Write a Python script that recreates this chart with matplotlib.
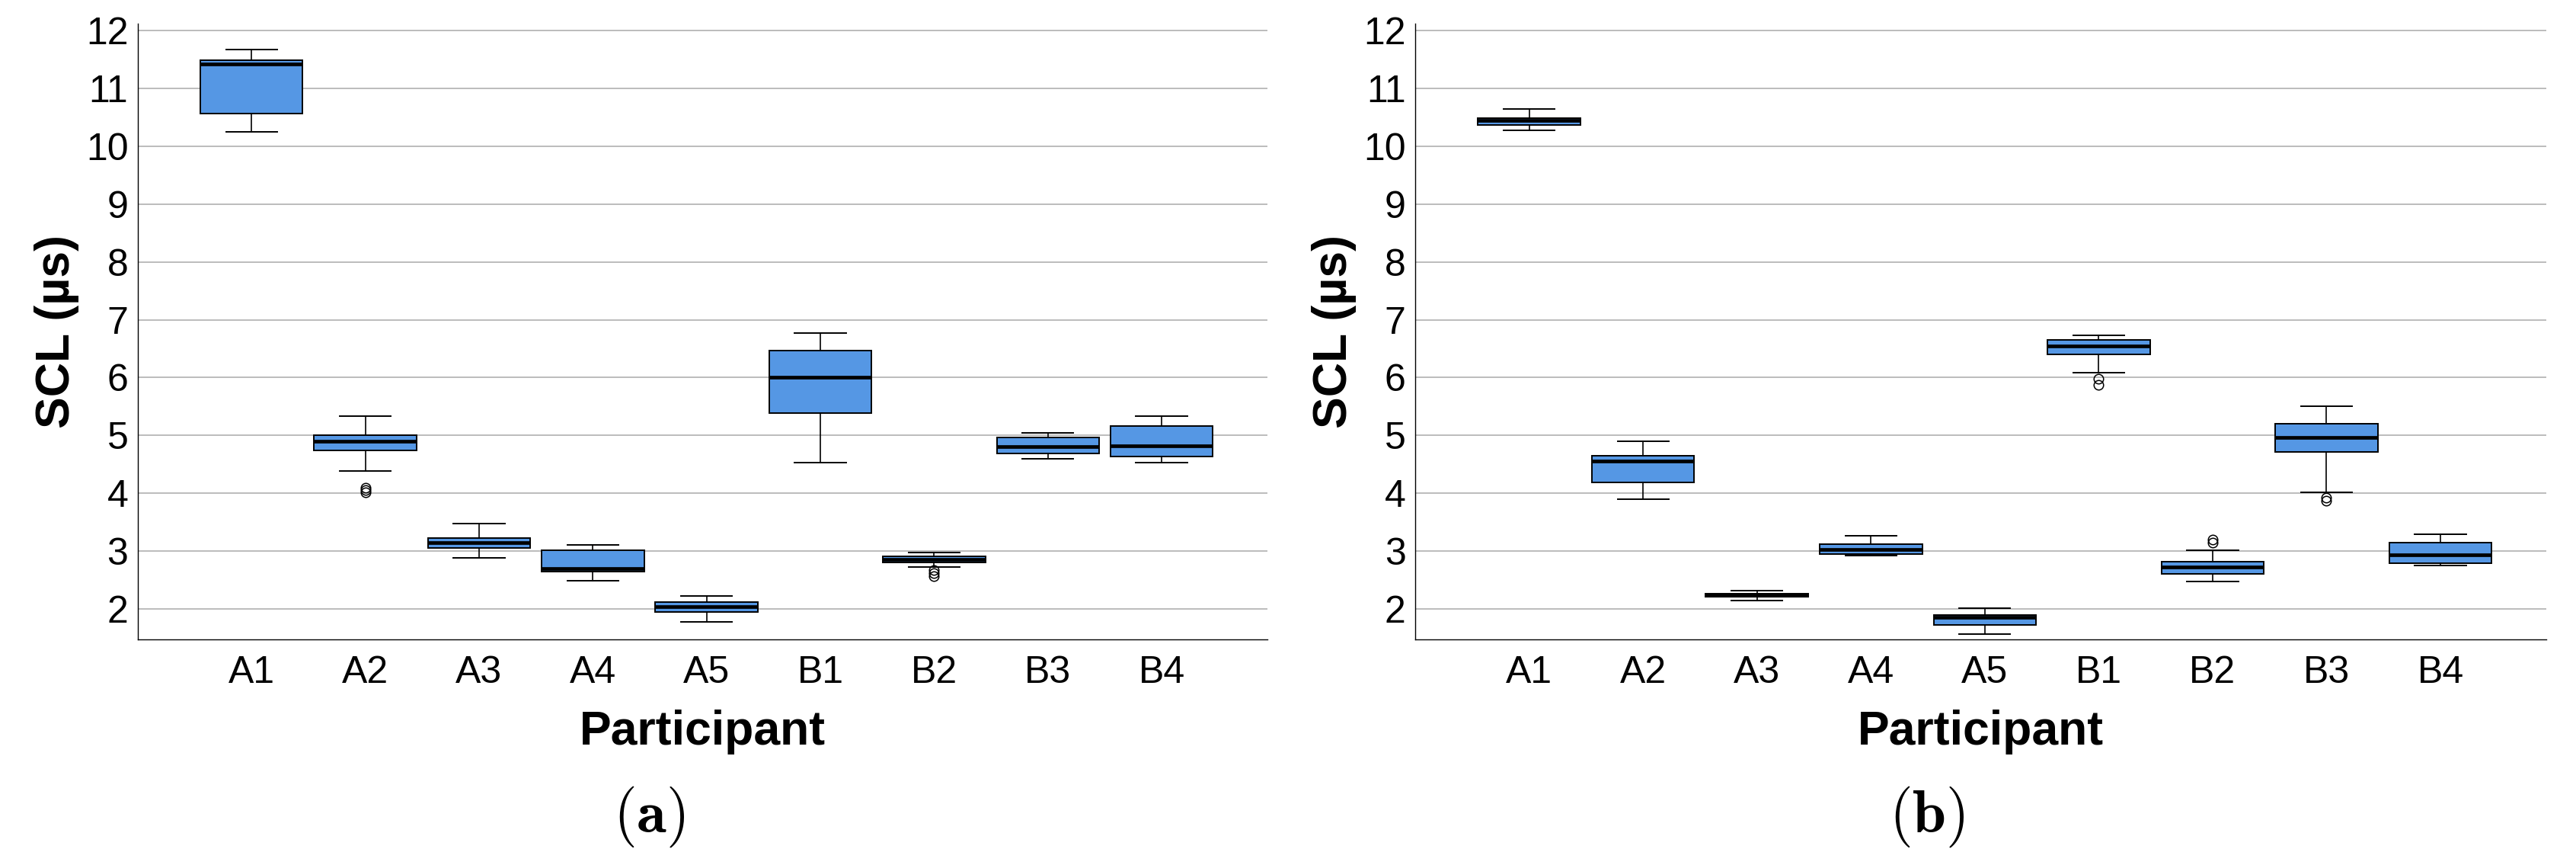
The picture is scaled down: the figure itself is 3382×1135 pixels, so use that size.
import matplotlib
matplotlib.use('Agg')
import matplotlib.pyplot as plt

plt.rcParams['font.family'] = ['Liberation Sans', 'DejaVu Sans']
plt.rcParams['mathtext.fontset'] = 'cm'

participants = ['A1', 'A2', 'A3', 'A4', 'A5', 'B1', 'B2', 'B3', 'B4']

# panel (a)
a_whislo = [10.25, 4.38, 2.88, 2.49, 1.78, 4.53, 2.73, 4.59, 4.53]
a_q1 = [10.57, 4.74, 3.06, 2.65, 1.95, 5.38, 2.81, 4.69, 4.63]
a_med = [11.42, 4.90, 3.14, 2.70, 2.04, 6.00, 2.86, 4.81, 4.82]
a_q3 = [11.49, 5.01, 3.23, 3.01, 2.12, 6.47, 2.91, 4.97, 5.16]
a_whishi = [11.67, 5.34, 3.47, 3.11, 2.22, 6.77, 2.97, 5.04, 5.33]
a_fliers = [[], [4.09, 4.05, 4.01], [], [], [], [], [2.67, 2.62, 2.56], [], []]

# panel (b)
b_whislo = [10.28, 3.90, 2.15, 2.92, 1.57, 6.08, 2.47, 4.01, 2.75]
b_q1 = [10.37, 4.19, 2.21, 2.95, 1.72, 6.40, 2.61, 4.71, 2.79]
b_med = [10.44, 4.55, 2.24, 3.03, 1.86, 6.55, 2.72, 4.97, 2.93]
b_q3 = [10.49, 4.65, 2.27, 3.12, 1.89, 6.65, 2.82, 5.20, 3.14]
b_whishi = [10.65, 4.90, 2.31, 3.26, 2.01, 6.73, 3.01, 5.50, 3.29]
b_fliers = [[], [], [], [], [], [5.98, 5.88], [3.20, 3.14], [3.93, 3.87], []]

panel_labels = ['(a)', '(b)']

box_color = '#5597e4'


def make_stats(lo, q1, med, q3, hi, fl):
    stats = []
    for i in range(len(participants)):
        stats.append(dict(whislo=lo[i], q1=q1[i], med=med[i], q3=q3[i],
                          whishi=hi[i], fliers=fl[i], label=participants[i]))
    return stats


fig = plt.figure(figsize=(33.82, 11.35), dpi=100)
ax1 = fig.add_axes([0.0535, 0.2608, 0.4385, 0.7119])
ax2 = fig.add_axes([0.5494, 0.2608, 0.4391, 0.7119])

panels = [
    (ax1, make_stats(a_whislo, a_q1, a_med, a_q3, a_whishi, a_fliers)),
    (ax2, make_stats(b_whislo, b_q1, b_med, b_q3, b_whishi, b_fliers)),
]

for ax, stats in panels:
    ax.bxp(stats, positions=range(1, len(participants) + 1), widths=0.9,
           capwidths=0.45, patch_artist=True,
           boxprops=dict(facecolor=box_color, edgecolor='black', linewidth=1.4),
           medianprops=dict(color='black', linewidth=3.4),
           whiskerprops=dict(color='black', linewidth=1.2),
           capprops=dict(color='black', linewidth=1.4),
           flierprops=dict(marker='o', markerfacecolor='none',
                           markeredgecolor='black', markersize=9,
                           markeredgewidth=1.1))
    ax.set_xlim(0, 9.93)
    ax.set_ylim(1.473, 12.12)
    ax.set_yticks(range(2, 13))
    ax.set_axisbelow(True)
    ax.yaxis.grid(True, color='#b0b0b0', linewidth=1.2)
    ax.tick_params(axis='both', length=0, labelsize=36)
    ax.tick_params(axis='x', pad=15)
    ax.tick_params(axis='y', pad=9)
    for side in ['top', 'right']:
        ax.spines[side].set_visible(False)
    for side in ['left', 'bottom']:
        ax.spines[side].set_linewidth(1.0)
        ax.spines[side].set_color('black')
    ax.set_ylabel('SCL (µs)', fontsize=45, fontweight='bold', va='center')
    ax.yaxis.set_label_coords(-0.0715, 0.5)
    ax.set_xlabel('Participant', fontsize=45, fontweight='bold', va='center')
    ax.xaxis.set_label_coords(0.5, -0.15)

for x, lab in zip([0.252, 0.748], panel_labels):
    fig.text(x, 0.0555, r'$\mathbf{' + lab + '}$', fontsize=57,
             ha='center', va='center')

fig.savefig('out.png', dpi=100)
